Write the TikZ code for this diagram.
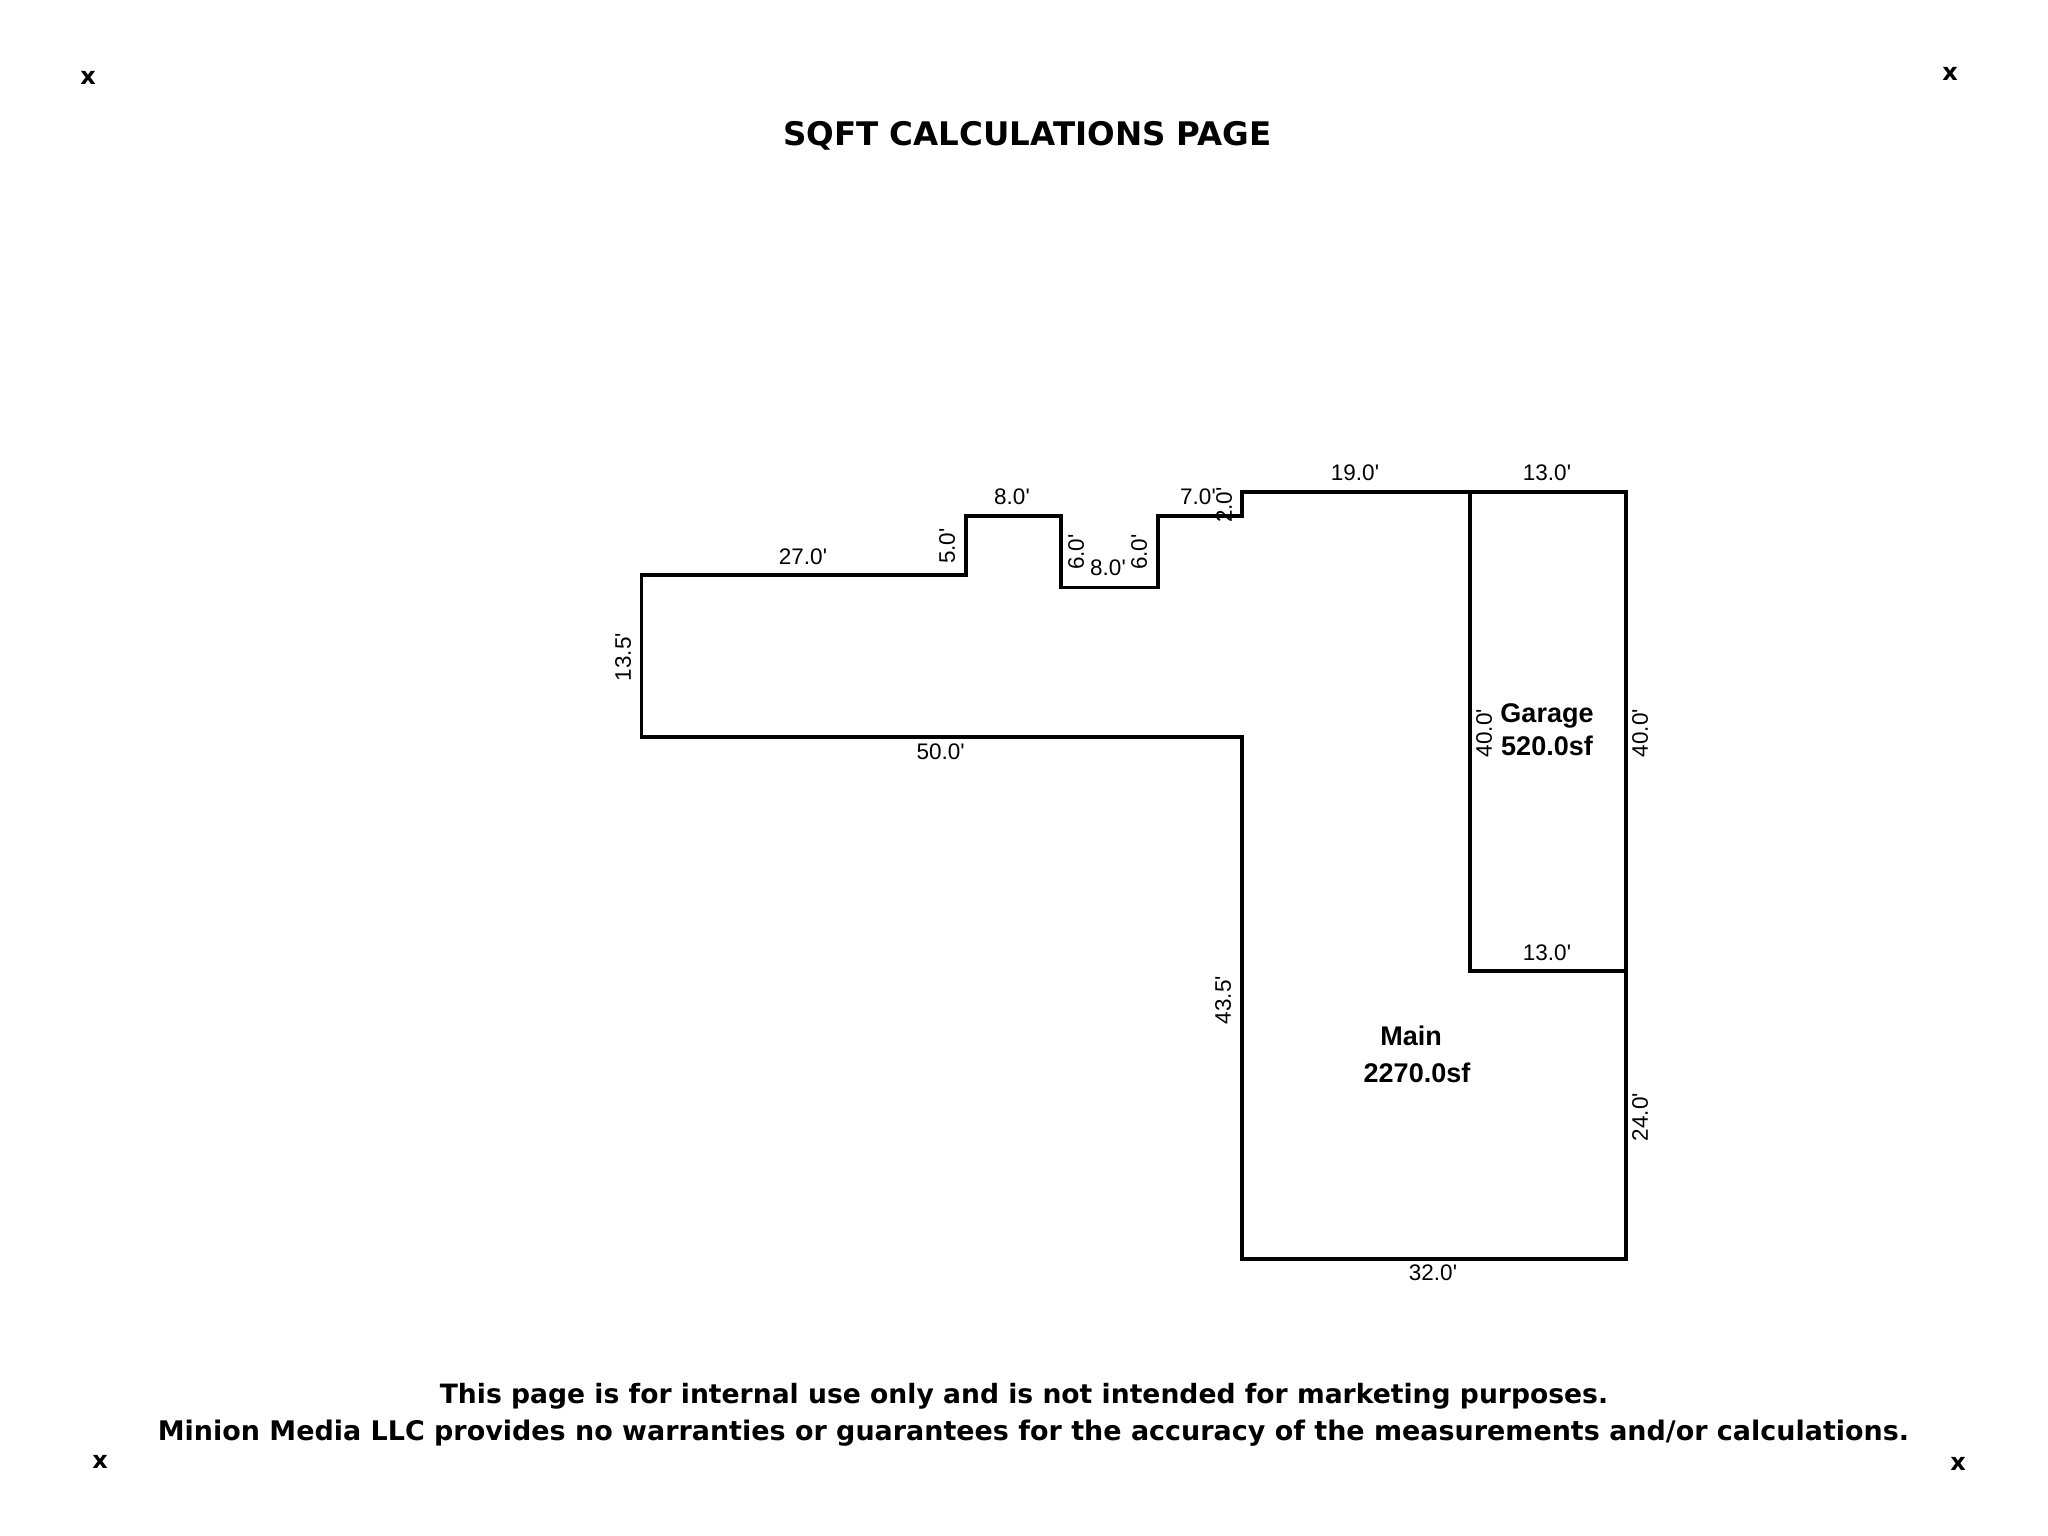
\documentclass[tikz,border=0pt]{standalone}
\usepackage{fontspec}
\setmainfont{Liberation Sans}
\newfontfamily\vfont{DejaVu Sans}
\newcommand{\ft}{\textquotesingle}
\tikzset{
 wall/.style={line width=3.8pt,line join=miter,line cap=rect,black},
 dimlabel/.style={inner sep=0pt,font=\fontsize{22.5}{22.5}\selectfont},
 vdimlabel/.style={dimlabel,rotate=90},
 roomlabel/.style={inner sep=0pt,anchor=base,font=\fontsize{27}{27}\selectfont\bfseries},
 headlabel/.style={inner sep=0pt,anchor=base,font=\vfont\fontsize{32.5}{32.5}\selectfont\bfseries},
 foota/.style={inner sep=0pt,anchor=base,font=\vfont\fontsize{26.6}{26.6}\selectfont\bfseries},
 footb/.style={inner sep=0pt,anchor=base,font=\vfont\fontsize{26.95}{26.95}\selectfont\bfseries},
 cornermark/.style={inner sep=0pt,font=\vfont\fontsize{24}{24}\selectfont\bfseries}
}
\begin{document}
\begin{tikzpicture}[x=1pt,y=-1pt]
\useasboundingbox[fill=white] (0,0) rectangle (2048,1536);
\draw[wall] (641.5,575.3) -- (965.6,575.3) -- (965.6,516) -- (1061,516) -- (1061,587.5) -- (1158,587.5) -- (1158,516) -- (1241.7,516) -- (1241.7,491.7) -- (1626,491.7) -- (1626,1259.3) -- (1241.7,1259.3) -- (1241.7,737) -- (641.5,737) -- cycle;
\draw[wall] (1469.7,491.7) -- (1469.7,971) -- (1626,971);
\node[dimlabel] (a) at (803,556.7) {27.0\ft};
\node[dimlabel] (b) at (1012,496.7) {8.0\ft};
\node[vdimlabel] (c) at (947,546) {5.0\ft};
\node[vdimlabel] (d) at (1076,552) {6.0\ft};
\node[dimlabel] (e) at (1108,568) {8.0\ft};
\node[vdimlabel] (f) at (1139,552) {6.0\ft};
\node[dimlabel] (g) at (1198,497) {7.0\ft};
\node[vdimlabel] (h) at (1224,505) {2.0\ft};
\node[vdimlabel] (i) at (623,657) {13.5\ft};
\node[dimlabel] (j) at (940.6,752) {50.0\ft};
\node[dimlabel] (k) at (1355,473) {19.0\ft};
\node[dimlabel] (l) at (1547,473) {13.0\ft};
\node[vdimlabel] (m) at (1484,733) {40.0\ft};
\node[vdimlabel] (n) at (1640,733) {40.0\ft};
\node[dimlabel] (o) at (1547,953) {13.0\ft};
\node[vdimlabel] (p) at (1223,1000) {43.5\ft};
\node[vdimlabel] (q) at (1640,1117) {24.0\ft};
\node[dimlabel] (r) at (1433,1273) {32.0\ft};
\node[roomlabel] (s) at (1547,722.7) {Garage};
\node[roomlabel] (t) at (1547,755.7) {520.0sf};
\node[roomlabel] (u) at (1411,1045.7) {Main};
\node[roomlabel] (v) at (1417,1082.7) {2270.0sf};
\node[headlabel] (w) at (1027.5,146) {SQFT CALCULATIONS PAGE};
\node[foota] (x) at (1024,1403) {This page is for internal use only and is not intended for marketing purposes.};
\node[footb] (y) at (1033.5,1440) {Minion Media LLC provides no warranties or guarantees for the accuracy of the measurements and/or calculations.};
\node[cornermark] (m1) at (88,78) {x};
\node[cornermark] (m2) at (1950,74) {x};
\node[cornermark] (m3) at (100,1462) {x};
\node[cornermark] (m4) at (1958,1464) {x};
\end{tikzpicture}
\end{document}
